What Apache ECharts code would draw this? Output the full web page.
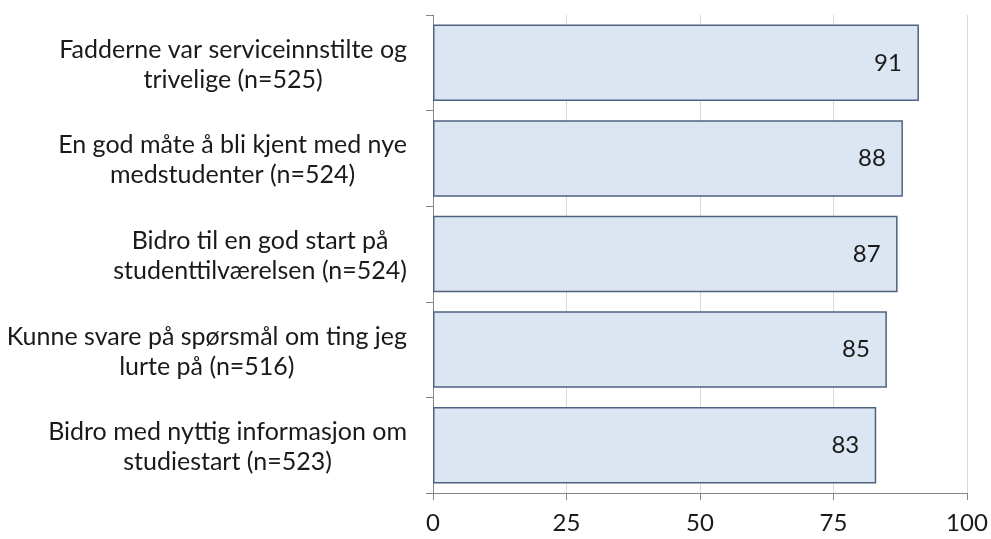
<!DOCTYPE html>
<html>
<head>
<meta charset="utf-8">
<script src="https://cdn.jsdelivr.net/npm/echarts@6/dist/echarts.min.js"></script>
<style>
  html, body { margin: 0; padding: 0; background: #fff; }
  #chart { width: 991px; height: 539px; }
</style>
</head>
<body>
<div id="chart"></div>
<script>
// kategorier (ovenfra og ned) og prosentverdier
const categories = [
  'Fadderne var serviceinnstilte og\ntrivelige (n=525)',
  'En god måte å bli kjent med nye\nmedstudenter (n=524)',
  'Bidro til en god start på\nstudenttilværelsen (n=524)',
  'Kunne svare på spørsmål om ting jeg\nlurte på (n=516)',
  'Bidro med nyttig informasjon om\nstudiestart (n=523)'
];
const values = [91, 88, 87, 85, 83];
const xTicks = [0, 25, 50, 75, 100];

const chart = echarts.init(document.getElementById('chart'));

const font = 'Lato, "Open Sans", sans-serif';

chart.setOption({
  animation: false,
  textStyle: { fontFamily: font },
  grid: { left: 433, right: 24, top: 15, bottom: 46 },
  xAxis: {
    type: 'value',
    min: xTicks[0],
    max: xTicks[xTicks.length - 1],
    interval: 25,
    axisLine: { show: true, lineStyle: { color: '#868686', width: 1 } },
    axisTick: { show: true, length: 7, lineStyle: { color: '#868686' } },
    axisLabel: { fontSize: 24, color: '#1a1a1a', margin: 18, fontFamily: font },
    splitLine: { show: true, lineStyle: { color: '#d9d9d9', width: 1 } }
  },
  yAxis: {
    type: 'category',
    data: categories,
    inverse: true,
    axisLine: { show: true, lineStyle: { color: '#868686', width: 1 } },
    axisTick: { show: true, length: 7, inside: false, lineStyle: { color: '#868686' } },
    axisLabel: {
      margin: 26,
      formatter: v => v.split('\n').map(s => '{a|' + s + '}').join('\n'),
      rich: {
        a: { fontSize: 25, color: '#1a1a1a', align: 'center', lineHeight: 30, padding: [4, 0, 0, 0], fontFamily: font }
      }
    }
  },
  series: [{
    type: 'bar',
    data: values,
    barCategoryGap: '20%',
    itemStyle: { color: '#dce6f2', borderColor: '#4f6283', borderWidth: 1.5 },
    label: {
      show: true,
      position: 'insideRight',
      distance: 17,
      fontSize: 24,
      color: '#1a1a1a',
      fontFamily: font
    }
  }]
});
</script>
</body>
</html>
